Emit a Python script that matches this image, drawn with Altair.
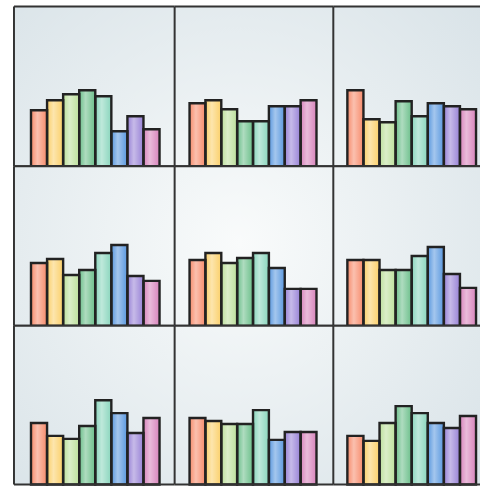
import altair as alt
import pandas as pd

categories = ["A", "B", "C", "D", "E", "F", "G", "H"]
colors = ["#f78c6c", "#fbd06a", "#bde09c", "#6cbf8b", "#8ad6bd", "#5a98df", "#9882d6", "#d884bc"]

panel_values = [
    [56, 66, 72, 76, 70, 35, 50, 37],
    [63, 66, 57, 45, 45, 60, 60, 66],
    [76, 47, 44, 65, 50, 63, 60, 57],
    [63, 67, 51, 56, 73, 81, 50, 45],
    [66, 73, 63, 68, 73, 58, 37, 37],
    [66, 66, 56, 56, 70, 79, 52, 38],
    [62, 49, 46, 59, 85, 72, 52, 67],
    [67, 64, 61, 61, 75, 45, 53, 53],
    [49, 44, 62, 79, 72, 62, 57, 69],
]

col_widths = [161, 159, 147]
row_heights = [160, 160, 159]
col_pad = [(1.0, 0.53), (1.0, 0.47), (0.56, 0.78)]
col_x0 = [14, 175, 334]
row_y0 = [6, 166, 326]
cx_img, cy_img = 240, 243

rows = []
for i, vals in enumerate(panel_values):
    for c, v in zip(categories, vals):
        rows.append({"panel": i, "cat": c, "value": v})
df = pd.DataFrame(rows)

stroke_col = "#222222"


def panel(i):
    r, c = divmod(i, 3)
    w, h = col_widths[c], row_heights[r]
    po, al = col_pad[c]
    fx = (cx_img - col_x0[c]) / w
    fy = (cy_img - row_y0[r]) / h
    bg_grad = alt.Gradient(
        gradient="radial",
        x1=fx, y1=fy, r1=0, x2=fx, y2=fy, r2=2.2,
        stops=[alt.GradientStop(color="#f9fbfb", offset=0),
               alt.GradientStop(color="#d9e3e8", offset=1)],
    )
    bg = alt.Chart(alt.Data(values=[{"a": 1}])).mark_rect(fill=bg_grad).encode(
        x=alt.value(0), x2=alt.value(w), y=alt.value(0), y2=alt.value(h)
    )
    xenc = alt.X("cat:N", sort=categories, axis=None,
                 scale=alt.Scale(paddingInner=0, paddingOuter=po, align=al))
    yenc = alt.Y("value:Q", axis=None, scale=alt.Scale(domain=[0, 160]))
    base = alt.Chart(df).transform_filter(alt.datum.panel == i)
    bars = base.mark_bar(strokeWidth=0).encode(
        x=xenc, y=yenc,
        color=alt.Color("cat:N", scale=alt.Scale(domain=categories, range=colors), legend=None),
    )
    hl_grad = alt.Gradient(
        gradient="linear", x1=0, x2=1, y1=0, y2=0,
        stops=[alt.GradientStop(color="rgba(255,255,255,0)", offset=0),
               alt.GradientStop(color="rgba(255,255,255,0.45)", offset=0.4),
               alt.GradientStop(color="rgba(255,255,255,0.0)", offset=1)],
    )
    hl = base.mark_bar(fill=hl_grad, strokeWidth=0).encode(x=xenc, y=yenc)
    outline = base.mark_bar(fillOpacity=0, fill="white", stroke=stroke_col, strokeWidth=2.4).encode(x=xenc, y=yenc)
    one = alt.Data(values=[{"a": 1}])
    left = alt.Chart(one).mark_rule(color="#333333", strokeWidth=2).encode(
        x=alt.value(0), y=alt.value(0), y2=alt.value(h))
    top = alt.Chart(one).mark_rule(color="#333333", strokeWidth=2).encode(
        x=alt.value(0), x2=alt.value(w), y=alt.value(0))
    bottom = alt.Chart(one).mark_rule(color="#333333", strokeWidth=2).encode(
        x=alt.value(0), x2=alt.value(w), y=alt.value(h))
    return alt.layer(bg, bars, hl, outline, left, top, bottom).properties(width=w, height=h)


chart = alt.concat(*[panel(i) for i in range(9)], columns=3, spacing=0,
                   bounds="flush", align="each").properties(
    padding={"left": 13, "top": 5, "right": 0, "bottom": 0},
    background="white",
).configure_view(stroke=None)

chart.save("out.html", embed_options={"renderer": "svg", "actions": False})
